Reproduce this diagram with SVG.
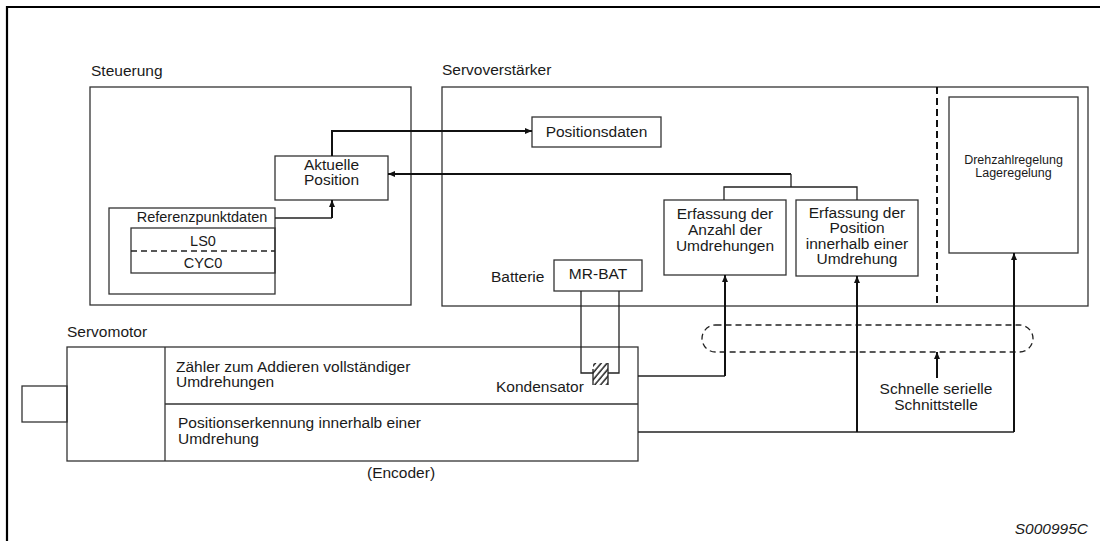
<svg xmlns="http://www.w3.org/2000/svg" width="1102" height="541" viewBox="0 0 1102 541">
<style>
text{font-family:"Liberation Sans",Arial,sans-serif;font-size:15.5px;fill:#1a1a1a}
.c{text-anchor:middle}
.sm{font-size:12.5px}
.rf{font-size:14.5px}
.box{fill:none;stroke:#333;stroke-width:1.3}
.thin{fill:none;stroke:#222;stroke-width:1.3}
.thick{fill:none;stroke:#111;stroke-width:2}
.dash{fill:none;stroke:#222;stroke-width:1.3;stroke-dasharray:6,4}
.it{font-style:italic}
</style>
<defs>
<marker id="ah" markerWidth="8" markerHeight="6" refX="7" refY="3" orient="auto" markerUnits="userSpaceOnUse">
<path d="M0,0 L7,3 L0,6 Z" fill="#111"/>
</marker>
<pattern id="hatch" width="4.5" height="4.5" patternUnits="userSpaceOnUse" patternTransform="rotate(40)">
<line x1="1" y1="0" x2="1" y2="4.5" stroke="#111" stroke-width="1.4"/>
</pattern>
</defs>
<path d="M7,541 V7 H1100" fill="none" stroke="#000" stroke-width="2.2"/>
<g id="steuerung">
<text x="91" y="76">Steuerung</text>
<rect class="box" x="90" y="87" width="321" height="218"/>
</g>
<g id="aktuelle-position">
<rect class="box" x="275" y="156" width="113" height="44"/>
<text class="c" x="331.5" y="170">Aktuelle</text>
<text class="c" x="331.5" y="185">Position</text>
</g>
<g id="referenzpunktdaten">
<rect class="box" x="109" y="208" width="166" height="86"/>
<text class="c rf" x="202" y="222">Referenzpunktdaten</text>
<rect class="box" x="131" y="228" width="144" height="45"/>
<line class="dash" x1="131" y1="251" x2="275" y2="251"/>
<text class="c rf" x="203" y="246">LS0</text>
<text class="c rf" x="203" y="268">CYC0</text>
</g>
<g id="servoverstaerker">
<text x="442" y="75">Servoverstärker</text>
<rect class="box" x="442" y="87" width="646" height="219"/>
<line x1="937" y1="87" x2="937" y2="306" stroke="#111" stroke-width="2" stroke-dasharray="7,4"/>
</g>
<g id="positionsdaten">
<rect class="box" x="532" y="117" width="129" height="30"/>
<text class="c" x="596.5" y="137">Positionsdaten</text>
</g>
<g id="erfassung-anzahl">
<rect class="box" x="664" y="200" width="122" height="75"/>
<text class="c" x="725" y="219">Erfassung der</text>
<text class="c" x="725" y="235">Anzahl der</text>
<text class="c" x="725" y="251">Umdrehungen</text>
</g>
<g id="erfassung-position">
<rect class="box" x="796" y="200" width="122" height="76"/>
<text class="c" x="857" y="218">Erfassung der</text>
<text class="c" x="857" y="233">Position</text>
<text class="c" x="857" y="249">innerhalb einer</text>
<text class="c" x="857" y="264">Umdrehung</text>
</g>
<g id="drehzahlregelung">
<rect class="box" x="949" y="97" width="129" height="156"/>
<text class="c sm" x="1013.5" y="164">Drehzahlregelung</text>
<text class="c sm" x="1013.5" y="177">Lageregelung</text>
</g>
<g id="batterie">
<text x="491" y="282">Batterie</text>
<rect class="box" x="554" y="260" width="88" height="31"/>
<text class="c" x="598" y="279">MR-BAT</text>
</g>
<g id="servomotor">
<text x="67" y="337">Servomotor</text>
<rect class="box" x="22" y="386" width="45" height="36"/>
<rect class="box" x="67" y="347" width="571" height="114"/>
<line class="box" x1="165" y1="347" x2="165" y2="461"/>
<line class="box" x1="165" y1="404" x2="638" y2="404"/>
<text x="176" y="372">Zähler zum Addieren vollständiger</text>
<text x="176" y="387">Umdrehungen</text>
<text x="178" y="428">Positionserkennung innerhalb einer</text>
<text x="178" y="444">Umdrehung</text>
<text x="496" y="392">Kondensator</text>
<text x="367" y="478">(Encoder)</text>
</g>
<g id="kondensator">
<rect x="593" y="363" width="15" height="22" fill="url(#hatch)"/>
<line class="thin" x1="608" y1="363" x2="608" y2="385"/>
<line class="thin" x1="593" y1="369" x2="593" y2="385"/>
</g>
<g id="schnittstelle">
<rect class="dash" x="702" y="325" width="331" height="27" rx="13.5"/>
<text class="c" x="936" y="394">Schnelle serielle</text>
<text class="c" x="936" y="410">Schnittstelle</text>
</g>
<text class="it" x="1088" y="534" text-anchor="end">S000995C</text>
<g id="connectors">
<polyline class="thick" points="332,156 332,131 532,131" marker-end="url(#ah)"/>
<polyline class="thick" points="791,174 388,174" marker-end="url(#ah)"/>
<polyline class="thin" points="791,174 791,187"/>
<polyline class="thin" points="724,200 724,187 857,187 857,200"/>
<polyline class="thin" points="275,218 332,218"/>
<polyline class="thick" points="332,218 332,200" marker-end="url(#ah)"/>
<polyline class="thin" points="581,291 581,373 593,373"/>
<polyline class="thin" points="619,291 619,373 608,373"/>
<polyline class="thin" points="638,376 725,376"/>
<polyline class="thick" points="725,376 725,275" marker-end="url(#ah)"/>
<polyline class="thin" points="638,432 1014,432"/>
<polyline class="thick" points="857,432 857,276" marker-end="url(#ah)"/>
<polyline class="thick" points="1014,432 1014,253" marker-end="url(#ah)"/>
<polyline class="thick" points="937,378 937,352" marker-end="url(#ah)"/>
</g>
</svg>
